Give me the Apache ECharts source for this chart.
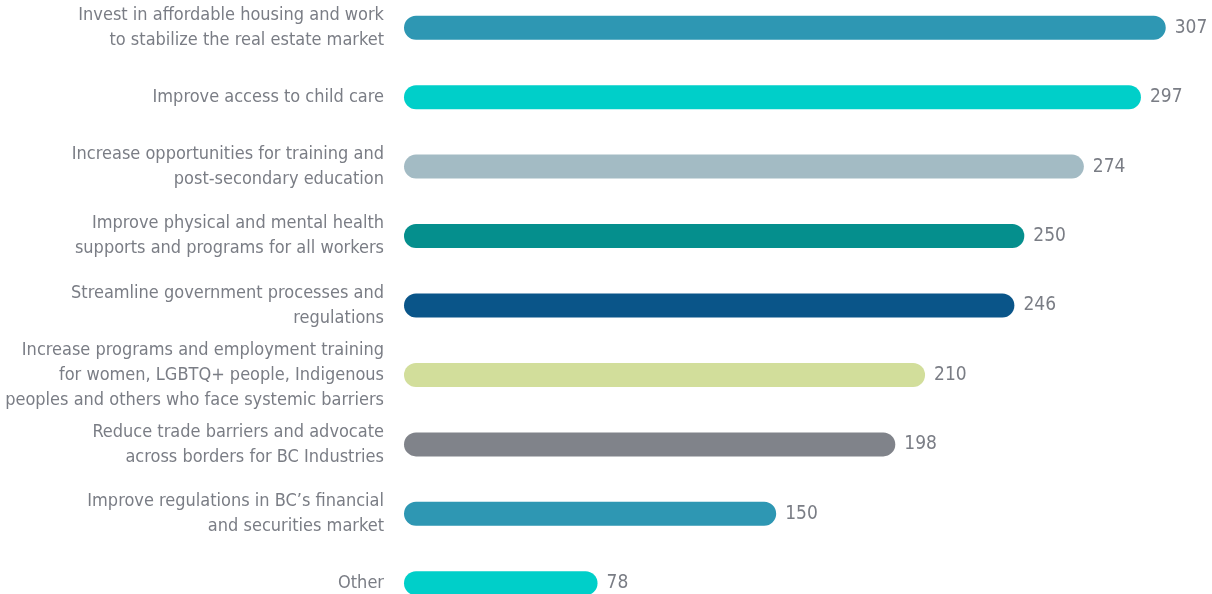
<!DOCTYPE html>
<html>
<head>
<meta charset="utf-8">
<script src="https://cdn.jsdelivr.net/npm/echarts@6/dist/echarts.min.js"></script>
<style>
html,body{margin:0;padding:0;background:#fff;}
#c{width:1212px;height:594px;}
</style>
</head>
<body>
<div id="c"></div>
<script>
const categories = [
  "Invest in affordable housing and work\nto stabilize the real estate market",
  "Improve access to child care",
  "Increase opportunities for training and\npost-secondary education",
  "Improve physical and mental health\nsupports and programs for all workers",
  "Streamline government processes and\nregulations",
  "Increase programs and employment training\nfor women, LGBTQ+ people, Indigenous\npeoples and others who face systemic barriers",
  "Reduce trade barriers and advocate\nacross borders for BC Industries",
  "Improve regulations in BC\u2019s financial\nand securities market",
  "Other"
];
const values = [307, 297, 274, 250, 246, 210, 198, 150, 78];
const colors = ["#2e97b3", "#00cfc9", "#a3bbc4", "#058f8d", "#0a5589", "#d2de9b", "#80838a", "#2e97b3", "#00cfc9"];

const textColor = "#7a7d85";
const font = "'Liberation Sans Narrow', 'DejaVu Sans Condensed', sans-serif";

const chart = echarts.init(document.getElementById('c'), null, {renderer: 'canvas'});
chart.setOption({
  backgroundColor: '#ffffff',
  animation: false,
  grid: {left: 404, right: 14, top: -7, bottom: -24, containLabel: false, outerBoundsMode: 'none'},
  xAxis: {type: 'value', min: 0, max: 320, show: false},
  yAxis: {
    type: 'category',
    inverse: true,
    data: categories,
    axisLine: {show: false},
    axisTick: {show: false},
    splitLine: {show: false},
    axisLabel: {
      margin: 20,
      color: textColor,
      fontSize: 18,
      lineHeight: 25,
      fontFamily: font,
      align: 'right'
    }
  },
  series: [{
    type: 'bar',
    barWidth: 24,
    data: values.map((v, i) => ({value: v, itemStyle: {color: colors[i]}})),
    itemStyle: {borderRadius: 12},
    label: {
      show: true,
      position: 'right',
      distance: 9,
      color: textColor,
      fontSize: 19,
      fontFamily: font
    }
  }]
});
</script>
</body>
</html>
